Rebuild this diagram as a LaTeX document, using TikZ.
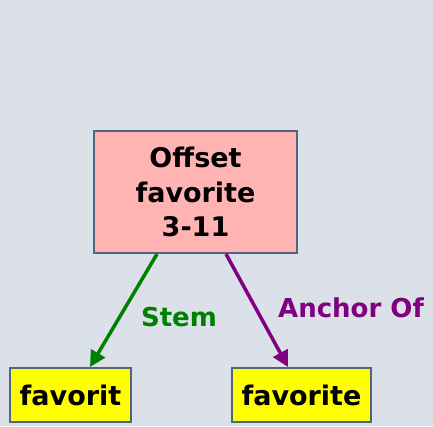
\documentclass[tikz,border=0pt]{standalone}
\usepackage{fontspec}
\setmainfont{DejaVu Sans}
\usetikzlibrary{arrows.meta}
\definecolor{canvasbg}{HTML}{DCE0E8}
\definecolor{boxstroke}{HTML}{4F6580}
\definecolor{offsetbg}{HTML}{FFB3B3}
\definecolor{wordbg}{HTML}{FFFF00}
\definecolor{stemcol}{HTML}{008000}
\definecolor{anchorcol}{HTML}{800080}

\begin{document}
\begin{tikzpicture}[
    x=1pt, y=-1pt,
    font=\bfseries\fontsize{27}{34.5}\selectfont,
    offsetbox/.style={rectangle, draw=boxstroke, fill=offsetbg, line width=2pt, minimum width=203pt, minimum height=122pt, align=center, inner sep=0pt},
    wordbox/.style={rectangle, draw=boxstroke, fill=wordbg, line width=2pt, minimum height=54pt, inner sep=0pt},
    link/.style={-{Triangle[length=16pt, width=16pt]}, line width=3.5pt},
    linklabel/.style={font=\bfseries\fontsize{26}{30}\selectfont}
]

    % canvas
    \fill[canvasbg] (0,0) rectangle (433,426);
    \useasboundingbox (0,0) rectangle (433,426);

    % offset node and its two words
    \node[offsetbox] (offset) at (195.5,192) {Offset\\favorite\\3-11};
    \node[wordbox, minimum width=121pt] (stemword) at (70.5,395) {favorit};
    \node[wordbox, minimum width=139pt] (anchorword) at (301.5,395) {favorite};

    % relations
    \draw[link, stemcol] ([xshift=-38.5pt]offset.south) -- ([xshift=19.5pt]stemword.north);
    \draw[link, anchorcol] ([xshift=30.5pt]offset.south) -- ([xshift=-13.5pt]anchorword.north);

    \node[linklabel, text=stemcol] (stemlabel) at (179,317) {Stem};
    \node[linklabel, text=anchorcol] (anchorlabel) at (351,308) {Anchor Of};

\end{tikzpicture}
\end{document}
